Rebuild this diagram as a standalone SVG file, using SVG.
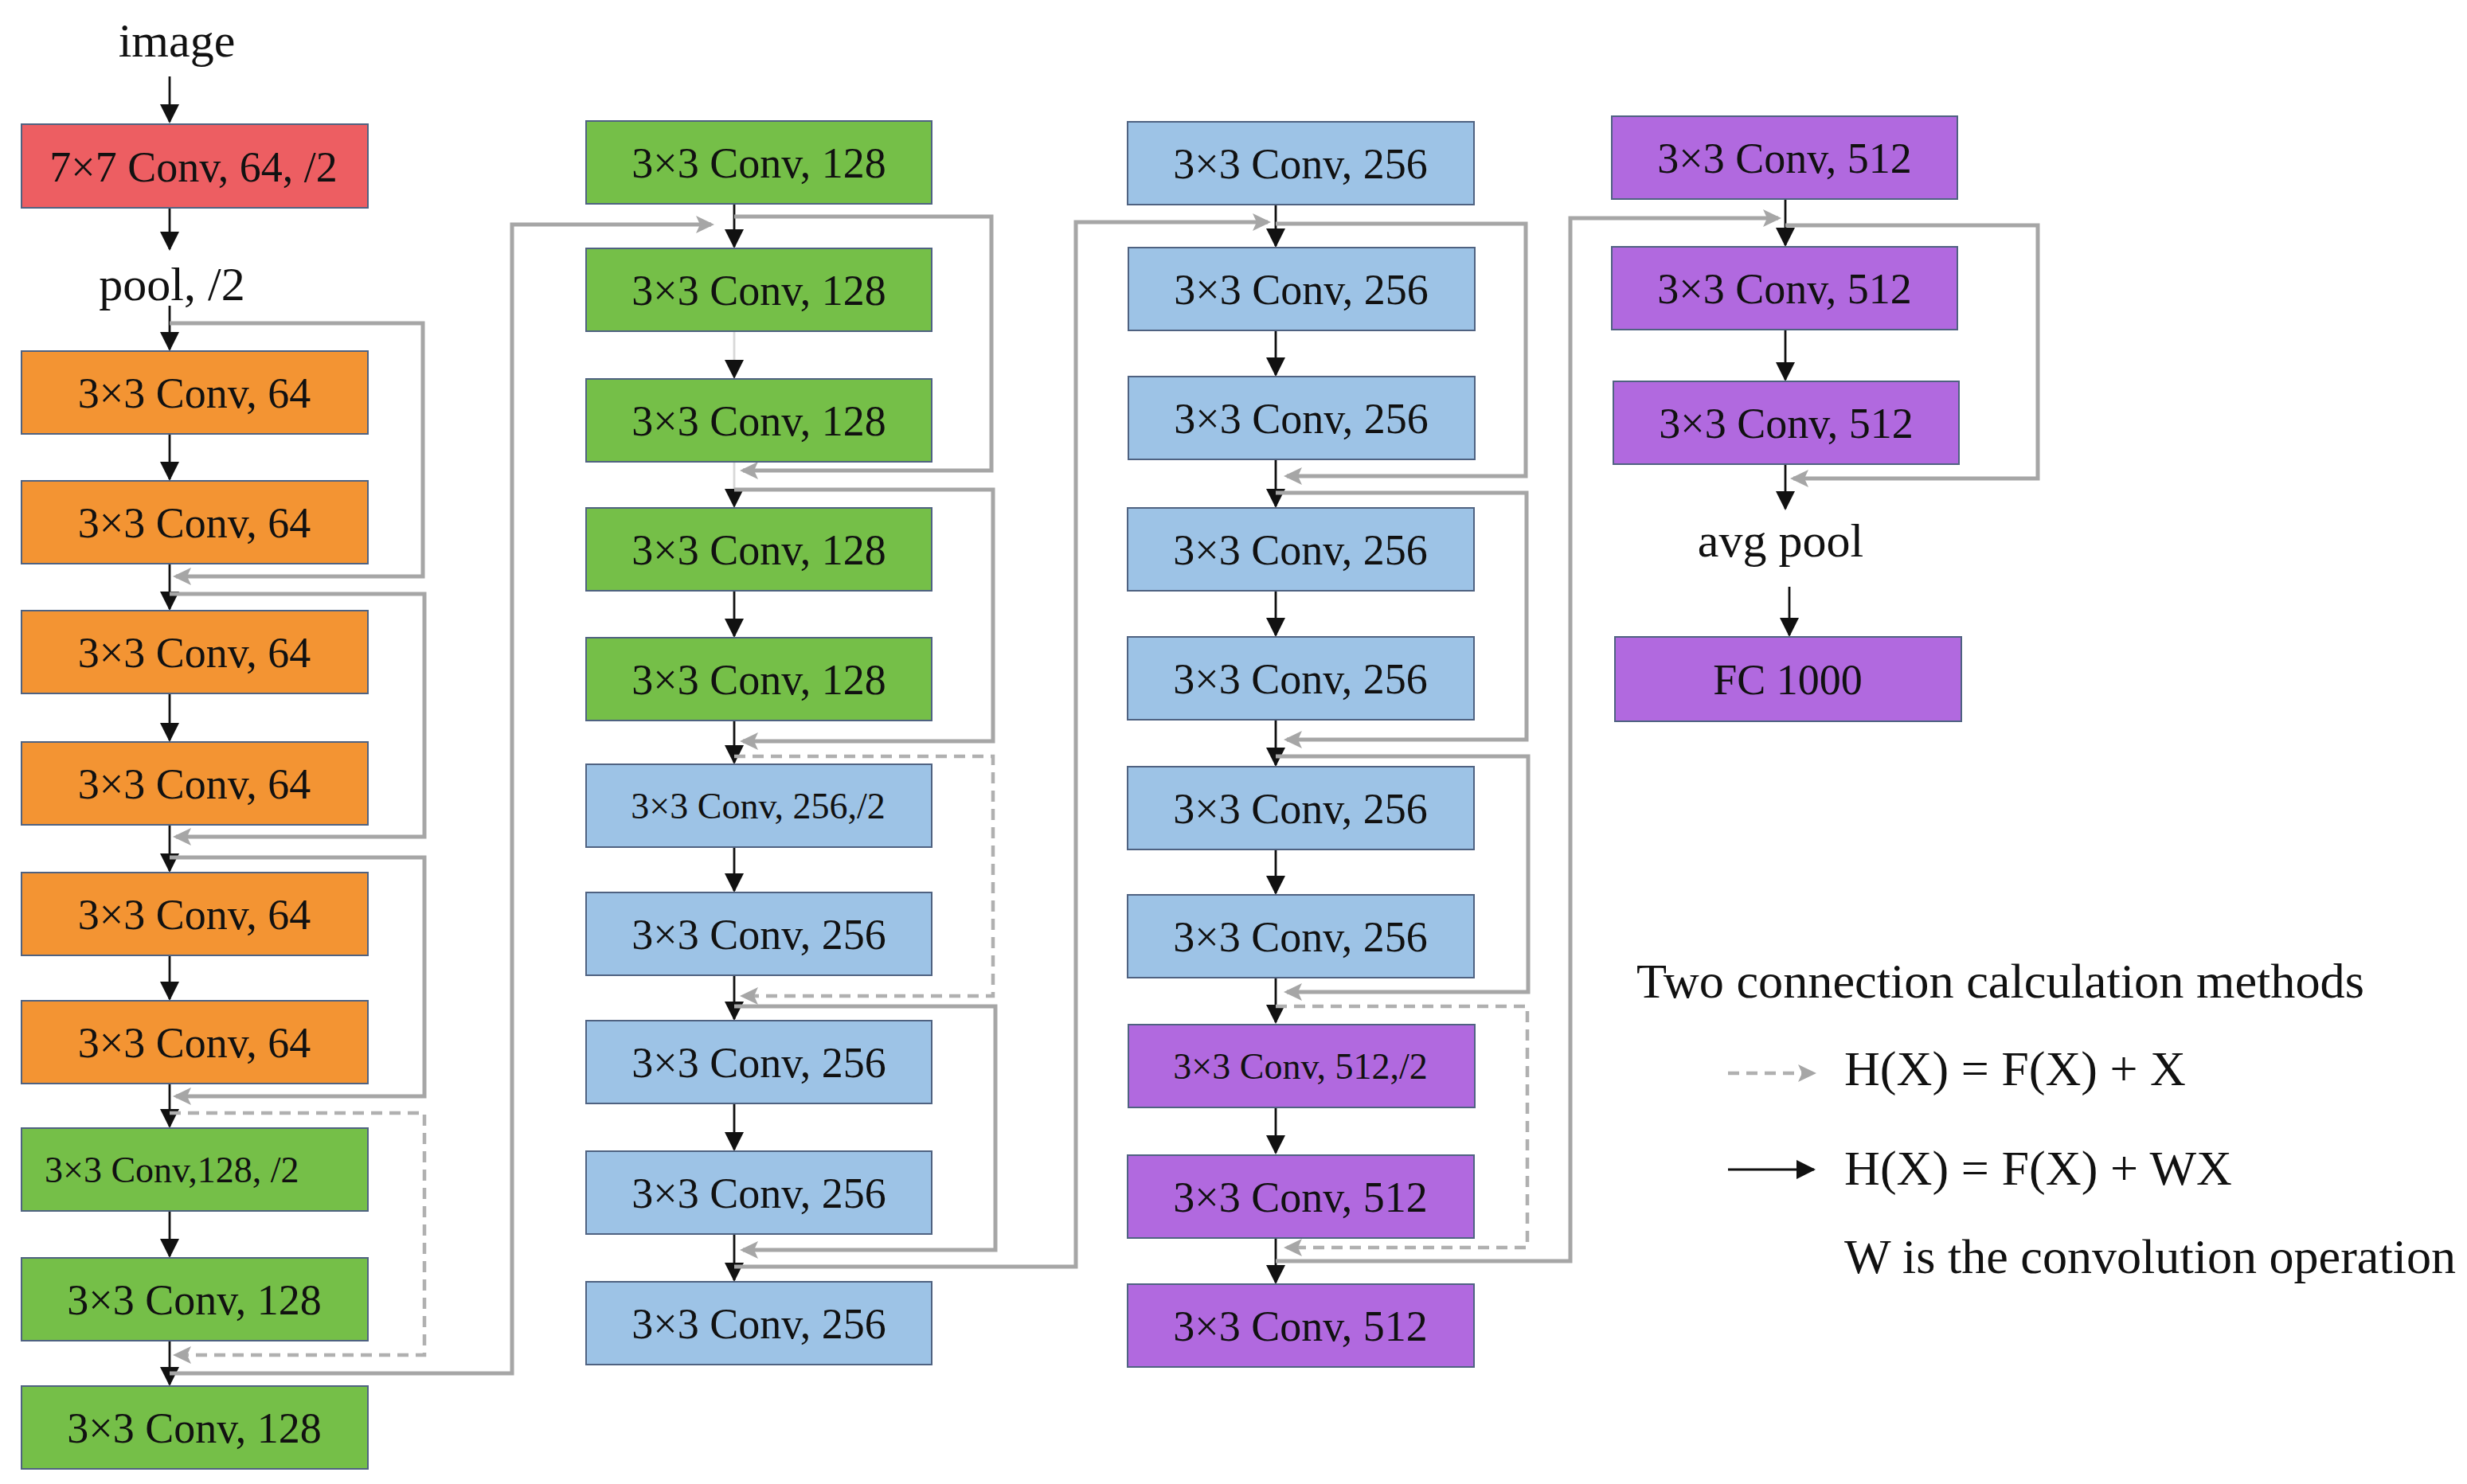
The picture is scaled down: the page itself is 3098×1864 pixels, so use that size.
<svg xmlns="http://www.w3.org/2000/svg" width="3098" height="1864" viewBox="0 0 3098 1864">
<defs>
<style>
.box{stroke:#4f6281;stroke-width:2}
.red{fill:#ED5E62}.org{fill:#F39433}.grn{fill:#75BF48}.blu{fill:#9DC3E6}.pur{fill:#B169DF}
text{font-family:"Liberation Serif","Times New Roman",serif;fill:#111}
.lbl{font-size:54px;text-anchor:middle}
.sm{font-size:46px}
.cap{font-size:60px;text-anchor:middle}
.leg{font-size:62px}
.blk{stroke:#111;stroke-width:2.8;fill:none}
.fnt{stroke:#d8d8d8}
.gry{stroke:#a6a6a6;stroke-width:5;fill:none}
.dsh{stroke:#b0b0b0;stroke-width:4.5;stroke-dasharray:14 9}
</style>
<marker id="ab" markerUnits="userSpaceOnUse" markerWidth="24" markerHeight="24" refX="22" refY="12" orient="auto" viewBox="0 0 24 24">
<path d="M0,0 L24,12 L0,24 Z" fill="#111"/>
</marker>
<marker id="ag" markerUnits="userSpaceOnUse" markerWidth="23" markerHeight="22" refX="19" refY="11" orient="auto" viewBox="0 0 23 22">
<path d="M0,0 L23,11 L0,22 L5,11 Z" fill="#a6a6a6"/>
</marker>
</defs>
<rect width="3098" height="1864" fill="#fff"/>

<g id="connectors">
<g id="main-arrows" class="blk" marker-end="url(#ab)">
<path d="M213 96 V153"/>
<path d="M213 261 V313"/>
<path d="M213 384 V439"/>
<path d="M213 545 V602"/>
<path d="M213 708 V765"/>
<path d="M213 871 V930"/>
<path d="M213 1036 V1094"/>
<path d="M213 1200 V1255"/>
<path d="M213 1361 V1415"/>
<path d="M213 1521 V1578"/>
<path d="M213 1684 V1739"/>
<path d="M922 256 V310"/>
<path class="fnt" d="M922 417 V474"/>
<path class="fnt" d="M922 580 V636"/>
<path d="M922 742 V799"/>
<path d="M922 905 V958"/>
<path d="M922 1064 V1119"/>
<path d="M922 1225 V1280"/>
<path d="M922 1386 V1444"/>
<path d="M922 1550 V1608"/>
<path d="M1602 258 V309"/>
<path d="M1602 416 V471"/>
<path d="M1602 578 V636"/>
<path d="M1602 742 V798"/>
<path d="M1602 905 V961"/>
<path d="M1602 1067 V1122"/>
<path d="M1602 1228 V1284"/>
<path d="M1602 1391 V1448"/>
<path d="M1602 1555 V1611"/>
<path d="M2242 250 V308"/>
<path d="M2242 414 V477"/>
<path d="M2242 583 V639"/>
<path d="M2247 737 V798"/>
</g>
<g id="skip-connections" class="gry" marker-end="url(#ag)">
<path d="M213 406 H531 V724 H221"/>
<path d="M213 746 H533 V1051 H221"/>
<path d="M213 1077 H533 V1377 H221"/>
<path class="dsh" d="M213 1398 H533 V1702 H221"/>
<path d="M213 1725 H643 V282 H893"/>
<path d="M922 272 H1245 V591 H933"/>
<path d="M922 615 H1247 V931 H933"/>
<path class="dsh" d="M922 950 H1247 V1251 H933"/>
<path d="M922 1264 H1250 V1570 H933"/>
<path d="M922 1591 H1351 V279 H1592"/>
<path d="M1602 281 H1916 V598 H1616"/>
<path d="M1602 619 H1917 V929 H1616"/>
<path d="M1602 950 H1919 V1246 H1616"/>
<path class="dsh" d="M1602 1264 H1918 V1567 H1616"/>
<path d="M1602 1584 H1972 V274 H2233"/>
<path d="M2242 283 H2559 V601 H2252"/>
</g>
</g>

<g id="n-image"><text class="cap" x="222" y="71">image</text></g>
<g id="n-conv7"><rect class="box red" x="27" y="156" width="435" height="105"/><text class="lbl" x="243" y="228">7×7 Conv, 64, /2</text></g>
<g id="n-pool"><text class="cap" x="216" y="377">pool, /2</text></g>

<g id="n-c1-1"><rect class="box org" x="27" y="441" width="435" height="104"/><text class="lbl" x="244" y="512">3×3 Conv, 64</text></g>
<g id="n-c1-2"><rect class="box org" x="27" y="604" width="435" height="104"/><text class="lbl" x="244" y="675">3×3 Conv, 64</text></g>
<g id="n-c1-3"><rect class="box org" x="27" y="767" width="435" height="104"/><text class="lbl" x="244" y="838">3×3 Conv, 64</text></g>
<g id="n-c1-4"><rect class="box org" x="27" y="932" width="435" height="104"/><text class="lbl" x="244" y="1003">3×3 Conv, 64</text></g>
<g id="n-c1-5"><rect class="box org" x="27" y="1096" width="435" height="104"/><text class="lbl" x="244" y="1167">3×3 Conv, 64</text></g>
<g id="n-c1-6"><rect class="box org" x="27" y="1257" width="435" height="104"/><text class="lbl" x="244" y="1328">3×3 Conv, 64</text></g>
<g id="n-c1-7"><rect class="box grn" x="27" y="1417" width="435" height="104"/><text class="sm" x="56" y="1485">3×3 Conv,128, /2</text></g>
<g id="n-c1-8"><rect class="box grn" x="27" y="1580" width="435" height="104"/><text class="lbl" x="244" y="1651">3×3 Conv, 128</text></g>
<g id="n-c1-9"><rect class="box grn" x="27" y="1741" width="435" height="104"/><text class="lbl" x="244" y="1812">3×3 Conv, 128</text></g>

<g id="n-c2-1"><rect class="box grn" x="736" y="152" width="434" height="104"/><text class="lbl" x="953" y="223">3×3 Conv, 128</text></g>
<g id="n-c2-2"><rect class="box grn" x="736" y="312" width="434" height="104"/><text class="lbl" x="953" y="383">3×3 Conv, 128</text></g>
<g id="n-c2-3"><rect class="box grn" x="736" y="476" width="434" height="104"/><text class="lbl" x="953" y="547">3×3 Conv, 128</text></g>
<g id="n-c2-4"><rect class="box grn" x="736" y="638" width="434" height="104"/><text class="lbl" x="953" y="709">3×3 Conv, 128</text></g>
<g id="n-c2-5"><rect class="box grn" x="736" y="801" width="434" height="104"/><text class="lbl" x="953" y="872">3×3 Conv, 128</text></g>
<g id="n-c2-6"><rect class="box blu" x="736" y="960" width="434" height="104"/><text class="lbl sm" x="952" y="1028">3×3 Conv, 256,/2</text></g>
<g id="n-c2-7"><rect class="box blu" x="736" y="1121" width="434" height="104"/><text class="lbl" x="953" y="1192">3×3 Conv, 256</text></g>
<g id="n-c2-8"><rect class="box blu" x="736" y="1282" width="434" height="104"/><text class="lbl" x="953" y="1353">3×3 Conv, 256</text></g>
<g id="n-c2-9"><rect class="box blu" x="736" y="1446" width="434" height="104"/><text class="lbl" x="953" y="1517">3×3 Conv, 256</text></g>
<g id="n-c2-10"><rect class="box blu" x="736" y="1610" width="434" height="104"/><text class="lbl" x="953" y="1681">3×3 Conv, 256</text></g>

<g id="n-c3-1"><rect class="box blu" x="1416" y="153" width="435" height="104"/><text class="lbl" x="1633" y="224">3×3 Conv, 256</text></g>
<g id="n-c3-2"><rect class="box blu" x="1417" y="311" width="435" height="104"/><text class="lbl" x="1634" y="382">3×3 Conv, 256</text></g>
<g id="n-c3-3"><rect class="box blu" x="1417" y="473" width="435" height="104"/><text class="lbl" x="1634" y="544">3×3 Conv, 256</text></g>
<g id="n-c3-4"><rect class="box blu" x="1416" y="638" width="435" height="104"/><text class="lbl" x="1633" y="709">3×3 Conv, 256</text></g>
<g id="n-c3-5"><rect class="box blu" x="1416" y="800" width="435" height="104"/><text class="lbl" x="1633" y="871">3×3 Conv, 256</text></g>
<g id="n-c3-6"><rect class="box blu" x="1416" y="963" width="435" height="104"/><text class="lbl" x="1633" y="1034">3×3 Conv, 256</text></g>
<g id="n-c3-7"><rect class="box blu" x="1416" y="1124" width="435" height="104"/><text class="lbl" x="1633" y="1195">3×3 Conv, 256</text></g>
<g id="n-c3-8"><rect class="box pur" x="1417" y="1287" width="435" height="104"/><text class="lbl sm" x="1633" y="1355">3×3 Conv, 512,/2</text></g>
<g id="n-c3-9"><rect class="box pur" x="1416" y="1451" width="435" height="104"/><text class="lbl" x="1633" y="1522">3×3 Conv, 512</text></g>
<g id="n-c3-10"><rect class="box pur" x="1416" y="1613" width="435" height="104"/><text class="lbl" x="1633" y="1684">3×3 Conv, 512</text></g>

<g id="n-c4-1"><rect class="box pur" x="2024" y="146" width="434" height="104"/><text class="lbl" x="2241" y="217">3×3 Conv, 512</text></g>
<g id="n-c4-2"><rect class="box pur" x="2024" y="310" width="434" height="104"/><text class="lbl" x="2241" y="381">3×3 Conv, 512</text></g>
<g id="n-c4-3"><rect class="box pur" x="2026" y="479" width="434" height="104"/><text class="lbl" x="2243" y="550">3×3 Conv, 512</text></g>
<g id="n-avgpool"><text class="cap" x="2236" y="699">avg pool</text></g>
<g id="n-fc"><rect class="box pur" x="2028" y="800" width="435" height="106"/><text class="lbl" x="2245" y="872">FC 1000</text></g>

<g id="legend">
<text class="leg" x="2055" y="1253" textLength="914" lengthAdjust="spacingAndGlyphs">Two connection calculation methods</text>
<path class="gry dsh" d="M2170 1348 H2277" marker-end="url(#ag)"/>
<text class="leg" x="2316" y="1363" textLength="429" lengthAdjust="spacingAndGlyphs">H(X) = F(X) + X</text>
<path class="blk" d="M2170 1469 H2278" marker-end="url(#ab)"/>
<text class="leg" x="2316" y="1488" textLength="487" lengthAdjust="spacingAndGlyphs">H(X) = F(X) + WX</text>
<text class="leg" x="2316" y="1599" textLength="768" lengthAdjust="spacingAndGlyphs">W is the convolution operation</text>
</g>
</svg>
